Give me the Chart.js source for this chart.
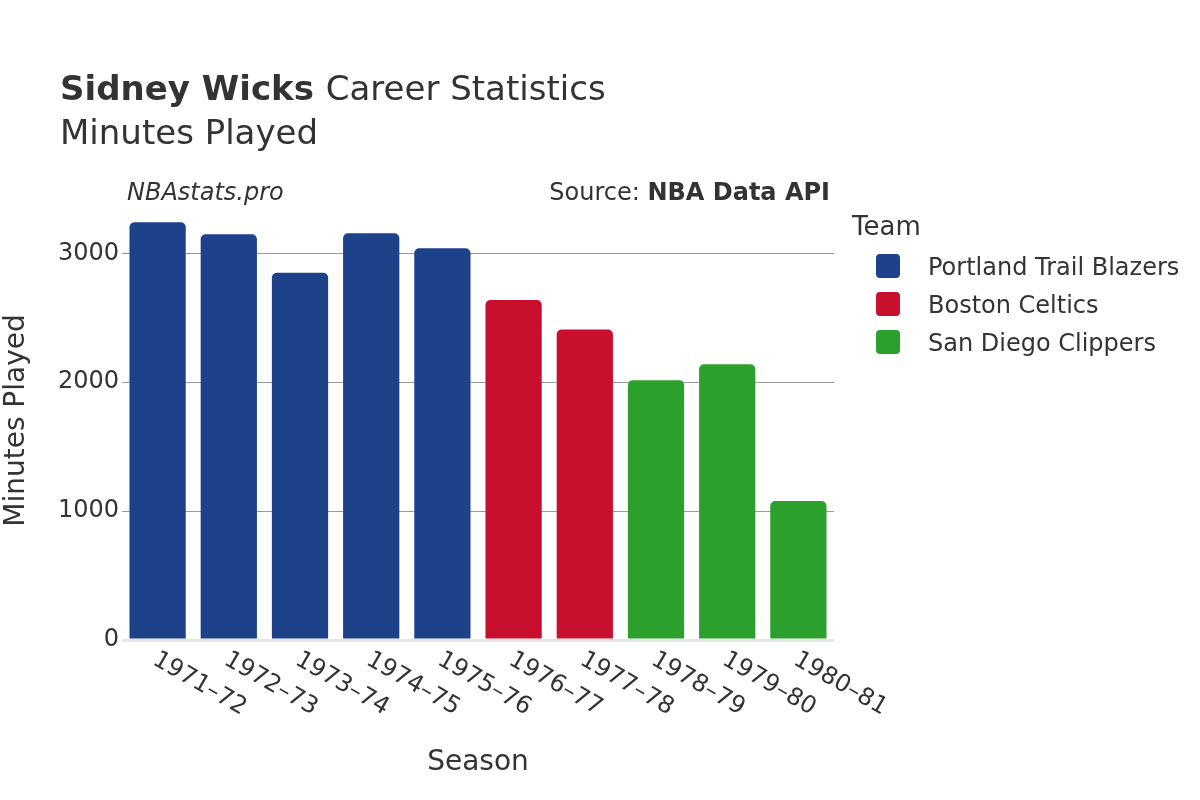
<!DOCTYPE html>
<html>
<head>
<meta charset="utf-8">
<script src="https://cdn.jsdelivr.net/npm/chart.js@4"></script>
<style>
  html, body { margin: 0; padding: 0; background: #fff; }
  #wrap { width: 1200px; height: 800px; }
</style>
</head>
<body>
<div id="wrap"><canvas id="minutesChart" width="1200" height="800"></canvas></div>
<script>
// data
const seasons = ['1971–72', '1972–73', '1973–74', '1974–75', '1975–76', '1976–77', '1977–78', '1978–79', '1979–80', '1980–81'];
const minutes = [3241, 3148, 2849, 3155, 3039, 2637, 2409, 2016, 2140, 1078];
const seasonTeam = [0, 0, 0, 0, 0, 1, 1, 2, 2, 2];
const teams = ['Portland Trail Blazers', 'Boston Celtics', 'San Diego Clippers'];
const yTicks = [0, 1000, 2000, 3000];

const teamColors = ['#1d4289', '#c8102e', '#2ca02c'];
const FONT = '"DejaVu Sans", sans-serif';
const TEXT = '#333333';

document.addEventListener('DOMContentLoaded', function() {
    initMinutesChart();
});

// titles, source line, rotated season labels and the legend
const decorPlugin = {
    id: 'decor',
    afterDraw(chart) {
        const c = chart.ctx;
        c.save();
        c.fillStyle = TEXT;
        c.textBaseline = 'alphabetic';

        c.textAlign = 'left';
        c.font = 'bold 34px ' + FONT;
        c.fillText('Sidney Wicks', 60, 100);
        const w = c.measureText('Sidney Wicks ').width;
        c.font = '34px ' + FONT;
        c.fillText('Career Statistics', 60 + w, 100);
        c.fillText('Minutes Played', 60, 144);

        c.font = 'italic 24px ' + FONT;
        c.fillText('NBAstats.pro', 127, 200);

        c.textAlign = 'right';
        c.font = 'bold 24px ' + FONT;
        c.fillText('NBA Data API', 830, 200);
        const bw = c.measureText('NBA Data API').width;
        c.font = '24px ' + FONT;
        c.fillText('Source: ', 830 - bw, 200);

        // season labels, rotated clockwise from the tick
        const xs = chart.scales.x;
        c.font = '24px ' + FONT;
        c.textAlign = 'left';
        c.textBaseline = 'middle';
        seasons.forEach((s, i) => {
            const x = xs.getPixelForValue(i);
            c.save();
            c.translate(x - 3, 658);
            c.rotate(Math.PI / 6);
            c.fillText(s, 0, 0);
            c.restore();
        });

        // legend
        c.textBaseline = 'alphabetic';
        c.font = '26px ' + FONT;
        c.fillText('Team', 852, 235);
        c.font = '24px ' + FONT;
        teams.forEach((t, i) => {
            const cy = 266 + i * 38;
            c.fillStyle = teamColors[i];
            c.beginPath();
            c.roundRect(876, cy - 12, 24, 24, 4);
            c.fill();
            c.fillStyle = TEXT;
            c.fillText(t, 928, cy + 9);
        });
        c.restore();
    }
};

function initMinutesChart() {
    const ctx = document.getElementById('minutesChart');

    const datasets = teams.map((team, t) => ({
        label: team,
        data: minutes.map((v, i) => seasonTeam[i] === t ? v : null),
        backgroundColor: teamColors[t],
        borderWidth: 0,
        borderRadius: 5,
        borderSkipped: 'start',
        grouped: false,
        categoryPercentage: 1,
        barPercentage: 0.79
    }));

    new Chart(ctx, {
        type: 'bar',
        data: { labels: seasons, datasets: datasets },
        options: {
            responsive: false,
            devicePixelRatio: 1,
            animation: false,
            layout: { padding: { left: 0, right: 366, top: 201, bottom: 0 } },
            plugins: {
                legend: { display: false },
                title: { display: false },
                tooltip: { enabled: false }
            },
            scales: {
                x: {
                    grid: { display: false },
                    border: { display: false },
                    ticks: { display: false },
                    title: {
                        display: true,
                        text: 'Season',
                        color: TEXT,
                        font: { family: FONT, size: 28 },
                        padding: { top: 0, bottom: 20 }
                    },
                    afterFit(scale) { scale.height = 160; }
                },
                y: {
                    min: 0,
                    max: 3406,
                    border: { display: false },
                    grid: {
                        drawTicks: false,
                        color: c => c.tick && c.tick.value === 0 ? '#e6e6e6' : '#999999',
                        lineWidth: c => c.tick && c.tick.value === 0 ? 3 : 1
                    },
                    afterBuildTicks(scale) {
                        scale.ticks = yTicks.map(v => ({ value: v }));
                    },
                    ticks: {
                        padding: 3,
                        color: TEXT,
                        font: { family: FONT, size: 24 },
                        callback: v => String(v)
                    },
                    title: {
                        display: true,
                        text: 'Minutes Played',
                        color: TEXT,
                        font: { family: FONT, size: 28 },
                        padding: { top: 0, bottom: 0 }
                    },
                    afterFit(scale) { scale.width = 122; }
                }
            }
        },
        plugins: [decorPlugin]
    });
}
</script>
</body>
</html>
